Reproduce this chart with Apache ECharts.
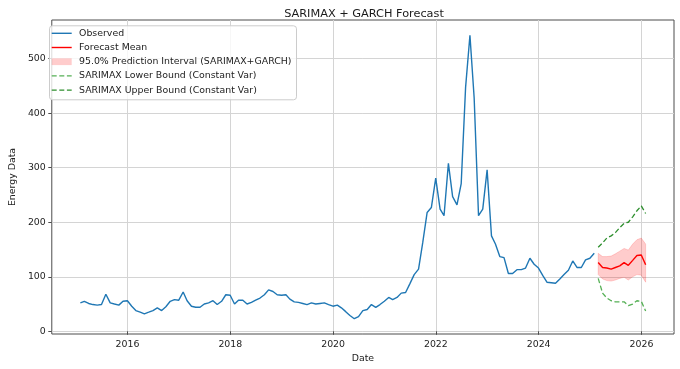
<!DOCTYPE html>
<html>
<head>
<meta charset="utf-8">
<script src="https://cdn.jsdelivr.net/npm/echarts@6/dist/echarts.min.js"></script>
<style>html,body{margin:0;padding:0;background:#fff}#c{width:680px;height:369px}</style>
</head>
<body>
<div id="c"></div>
<script>
// ---- data ----
const observedStart = [2015, 1];   // first month (year, month) – month-end dates
const observedValues = [
  52, 55, 51, 49, 48, 49, 68, 52, 50, 48, 55, 56,
  46, 38, 35, 32, 35, 38, 43, 38, 45, 55, 58, 57,
  72, 56, 46, 44, 44, 50, 52, 56, 49, 55, 67, 66,
  50, 57, 57, 50, 53, 57, 61, 67, 76, 73, 67, 66,
  67, 59, 54, 53, 51, 49, 52, 50, 51, 52, 49, 46,
  48, 43, 36, 29, 23, 27, 38, 40, 49, 44, 49, 55,
  62, 58, 62, 70, 71, 87, 104, 114, 163, 218, 227, 281,
  224, 212, 308, 247, 232, 271, 447, 543, 428, 212, 224, 296,
  175, 160, 137, 135, 106, 106, 113, 113, 116, 134, 123, 116,
  102, 90, 89, 88, 96, 104, 112, 129, 117, 117, 131, 134,
  143
];
const forecastStart = [2025, 2];
const forecastMean  = [126, 117, 116, 114, 117, 120, 126, 121, 130, 139, 140, 122];
const piLower       = [104, 96, 93, 92, 94, 97, 99, 94, 100, 104, 103, 90];
const piUpper       = [143, 137, 137, 138, 142, 147, 152, 149, 160, 168, 171, 160];
const sarimaxLower  = [97, 70, 61, 56, 54, 54, 54, 47, 50, 56, 55, 37];
const sarimaxUpper  = [154, 162, 171, 175, 181, 190, 198, 200, 210, 221, 230, 216];
const xTickYears = [2016, 2018, 2020, 2022, 2024, 2026];
const yTicks = [0, 100, 200, 300, 400, 500];
const legendLabels = [
  'Observed', 'Forecast Mean', '95.0% Prediction Interval (SARIMAX+GARCH)',
  'SARIMAX Lower Bound (Constant Var)', 'SARIMAX Upper Bound (Constant Var)'
];

// ---- helpers ----
function decYear(t) {
  const y = new Date(t).getUTCFullYear();
  const a = Date.UTC(y, 0, 1), b = Date.UTC(y + 1, 0, 1);
  return y + (t - a) / (b - a);
}
function monthEnds(start, n) {
  const out = [];
  for (let k = 0; k < n; k++) out.push(decYear(Date.UTC(start[0], start[1] - 1 + k + 1, 0)));
  return out;
}
const obsDates = monthEnds(observedStart, observedValues.length);
const fcDates = monthEnds(forecastStart, forecastMean.length);
const pair = (d, v) => d.map((t, i) => [t, v[i]]);

const font = 'DejaVu Sans';
const C = {
  obs: '#1f77b4', mean: '#ff0000', band: 'rgba(255,0,0,0.2)',
  lo: '#55b055', hi: '#2e8f2e', text: '#222'
};
const dash = [5, 2.6];

// legend drawn as graphic
const LX = 49, LY = 25.3, LW = 247, LH = 74, ROW = 14.2, ROW0 = 33.3;
const legendGraphic = [{
  type: 'rect', z: 100, shape: {x: LX + 0.5, y: LY + 0.5, width: LW, height: LH, r: 3},
  style: {fill: 'rgba(255,255,255,0.8)', stroke: '#cccccc', lineWidth: 1}
}];
const handleStyles = [
  {kind: 'line', stroke: C.obs},
  {kind: 'line', stroke: C.mean},
  {kind: 'rect', fill: C.band},
  {kind: 'line', stroke: C.lo, dash: dash},
  {kind: 'line', stroke: C.hi, dash: dash}
];
legendLabels.forEach((txt, i) => {
  const cy = ROW0 + i * ROW;
  const h = handleStyles[i];
  if (h.kind === 'line') {
    legendGraphic.push({type: 'line', z: 101, shape: {x1: 51.7, y1: cy, x2: 71.7, y2: cy},
      style: {stroke: h.stroke, lineWidth: 1.4, lineDash: h.dash || null}});
  } else {
    legendGraphic.push({type: 'rect', z: 101, shape: {x: 51.7, y: cy - 3.4, width: 20, height: 6.8},
      style: {fill: h.fill}});
  }
  legendGraphic.push({type: 'text', z: 101, x: 79, y: cy,
    style: {text: txt, font: '9.4px "DejaVu Sans"', fill: C.text, textVerticalAlign: 'middle', verticalAlign: 'middle'}});
});

const chart = echarts.init(document.getElementById('c'), null, {renderer: 'canvas'});
chart.setOption({
  animation: false,
  backgroundColor: '#fff',
  textStyle: {fontFamily: font},
  title: {
    text: 'SARIMAX + GARCH Forecast', left: 359, top: 4, textAlign: 'center',
    textStyle: {fontFamily: font, fontSize: 11.3, fontWeight: 'normal', color: '#1a1a1a'}
  },
  grid: {left: 44, right: 6, top: 20, bottom: 35, show: true, borderColor: '#4d4d4d', borderWidth: 1, backgroundColor: 'transparent'},
  graphic: legendGraphic,
  xAxis: {
    type: 'value',
    min: 2014.526, max: 2026.634,
    name: 'Date', nameLocation: 'middle', nameGap: 18,
    nameTextStyle: {fontFamily: font, fontSize: 9.4, color: C.text},
    axisLine: {show: false},
    axisTick: {show: true, length: 3.5, lineStyle: {color: '#4d4d4d'}, customValues: xTickYears},
    axisLabel: {
      fontFamily: font, fontSize: 9.4, color: C.text, margin: 6,
      customValues: xTickYears,
      formatter: v => String(Math.round(v))
    },
    splitLine: {show: true, lineStyle: {color: '#d4d4d4', width: 1}}
  },
  yAxis: {
    type: 'value', min: -5, max: 571,
    name: 'Energy Data', nameLocation: 'middle', nameGap: 32, nameRotate: 90,
    nameTextStyle: {fontFamily: font, fontSize: 9.4, color: C.text},
    axisLine: {show: false},
    axisTick: {show: true, length: 3.5, lineStyle: {color: '#4d4d4d'}, customValues: yTicks},
    axisLabel: {fontFamily: font, fontSize: 9.4, color: C.text, margin: 6, customValues: yTicks},
    splitLine: {show: true, lineStyle: {color: '#d4d4d4', width: 1}}
  },
  series: [
    {name: 'band', type: 'custom', z: 2, silent: true,
     data: fcDates.map((d, i) => [d, piLower[i], piUpper[i]]),
     encode: {x: 0, y: [1, 2]},
     renderItem: (params, api) => {
       if (params.dataIndex !== 0) return null;
       const top = fcDates.map((d, i) => api.coord([d, piUpper[i]]));
       const bot = fcDates.map((d, i) => api.coord([d, piLower[i]])).reverse();
       return {type: 'polygon', shape: {points: top.concat(bot)},
               style: {fill: C.band, stroke: C.band, lineWidth: 0.8}};
     }},
    {name: 'Observed', type: 'line', data: pair(obsDates, observedValues), showSymbol: false, symbol: 'none',
     color: C.obs, lineStyle: {color: C.obs, width: 1.4}, z: 5},
    {name: 'Forecast Mean', type: 'line', data: pair(fcDates, forecastMean), showSymbol: false, symbol: 'none',
     color: C.mean, lineStyle: {color: C.mean, width: 1.4}, z: 6},
    {name: 'SARIMAX Lower Bound (Constant Var)', type: 'line', data: pair(fcDates, sarimaxLower), showSymbol: false, symbol: 'none',
     color: C.lo, lineStyle: {color: C.lo, width: 1.3, type: dash}, z: 4},
    {name: 'SARIMAX Upper Bound (Constant Var)', type: 'line', data: pair(fcDates, sarimaxUpper), showSymbol: false, symbol: 'none',
     color: C.hi, lineStyle: {color: C.hi, width: 1.3, type: dash}, z: 4}
  ]
});
</script>
</body>
</html>
